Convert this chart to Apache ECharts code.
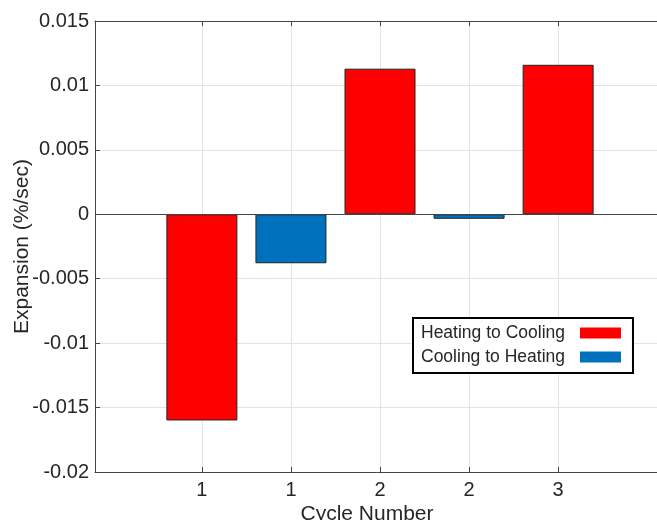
<!DOCTYPE html>
<html>
<head>
<meta charset="utf-8">
<script src="https://cdn.jsdelivr.net/npm/echarts@6/dist/echarts.min.js"></script>
<style>
html,body{margin:0;padding:0;background:#fff;}
#chart{width:657px;height:520px;}
</style>
</head>
<body>
<div id="chart"></div>
<script>
// Data
var positions = [1, 2, 3, 4, 5];
var tickLabels = ['1', '1', '2', '2', '3'];
var heatingToCooling = [[1, -0.016], [3, 0.0113], [5, 0.0116]];
var coolingToHeating = [[2, -0.0038], [4, -0.00035]];
var seriesNames = ['Heating to Cooling', 'Cooling to Heating'];

var FONT = '"Liberation Sans", Arial, sans-serif';
var TXT = '#262626';
var chart = echarts.init(document.getElementById('chart'));
var option = {
  animation: false,
  backgroundColor: '#fff',
  textStyle: { fontFamily: FONT },
  grid: { left: 95, top: 21, right: -8, bottom: 48, containLabel: false, outerBoundsMode: 'none' },
  legend: {
    orient: 'vertical',
    left: 413, top: 318,
    align: 'right',
    icon: 'rect',
    backgroundColor: '#fff',
    borderColor: '#000', borderWidth: 2,
    padding: [5, 12, 6, 8],
    itemWidth: 41, itemHeight: 11, itemGap: 4,
    textStyle: { fontFamily: FONT, fontSize: 17.5, color: TXT, lineHeight: 20, padding: [0, 10, 0, 0] },
    itemStyle: { borderWidth: 0 },
    data: seriesNames
  },
  xAxis: [{
    type: 'value', position: 'bottom',
    min: -0.2, max: 6.2,
    name: 'Cycle Number', nameLocation: 'middle', nameGap: 32, nameMoveOverlap: false,
    nameTextStyle: { fontFamily: FONT, fontSize: 21, color: TXT, padding: [0, 26, 0, 0] },
    axisLine: { onZero: false, lineStyle: { color: '#444', width: 1 } },
    axisTick: { inside: true, length: 5, customValues: positions, lineStyle: { color: '#444' } },
    axisLabel: { customValues: positions, margin: 8, fontFamily: FONT, fontSize: 20, color: TXT,
      formatter: function (v) { var i = positions.indexOf(Math.round(v)); return i >= 0 ? tickLabels[i] : ''; } },
    splitLine: { show: true, lineStyle: { color: '#e3e3e3', width: 1 } }
  }, {
    type: 'value', position: 'top',
    min: -0.2, max: 6.2,
    axisLine: { onZero: false, lineStyle: { color: '#444', width: 1 } },
    axisTick: { inside: true, length: 5, customValues: positions, lineStyle: { color: '#444' } },
    axisLabel: { show: false },
    splitLine: { show: false }
  }],
  yAxis: {
    type: 'value',
    min: -0.02, max: 0.015, interval: 0.005,
    name: 'Expansion (%/sec)', nameLocation: 'middle', nameGap: 62, nameMoveOverlap: false,
    nameTextStyle: { fontFamily: FONT, fontSize: 21, color: TXT },
    axisLine: { show: true, onZero: false, lineStyle: { color: '#444', width: 1 } },
    axisTick: { show: true, inside: true, length: 5, lineStyle: { color: '#444' } },
    axisLabel: { margin: 6, fontFamily: FONT, fontSize: 20, color: TXT },
    splitLine: { show: true, lineStyle: { color: '#e3e3e3', width: 1 } }
  },
  series: [{
    name: seriesNames[0], type: 'bar', xAxisIndex: 0,
    barWidth: 71, barGap: '-100%',
    itemStyle: { color: '#ff0000', borderColor: '#222', borderWidth: 1 },
    data: heatingToCooling,
    markLine: {
      silent: true, symbol: 'none', label: { show: false },
      lineStyle: { color: '#444', width: 1, type: 'solid' },
      data: [{ yAxis: 0 }]
    }
  }, {
    name: seriesNames[1], type: 'bar', xAxisIndex: 0,
    barWidth: 71, barGap: '-100%',
    itemStyle: { color: '#0072bd', borderColor: '#222', borderWidth: 1 },
    data: coolingToHeating
  }]
};
chart.setOption(option);
</script>
</body>
</html>
